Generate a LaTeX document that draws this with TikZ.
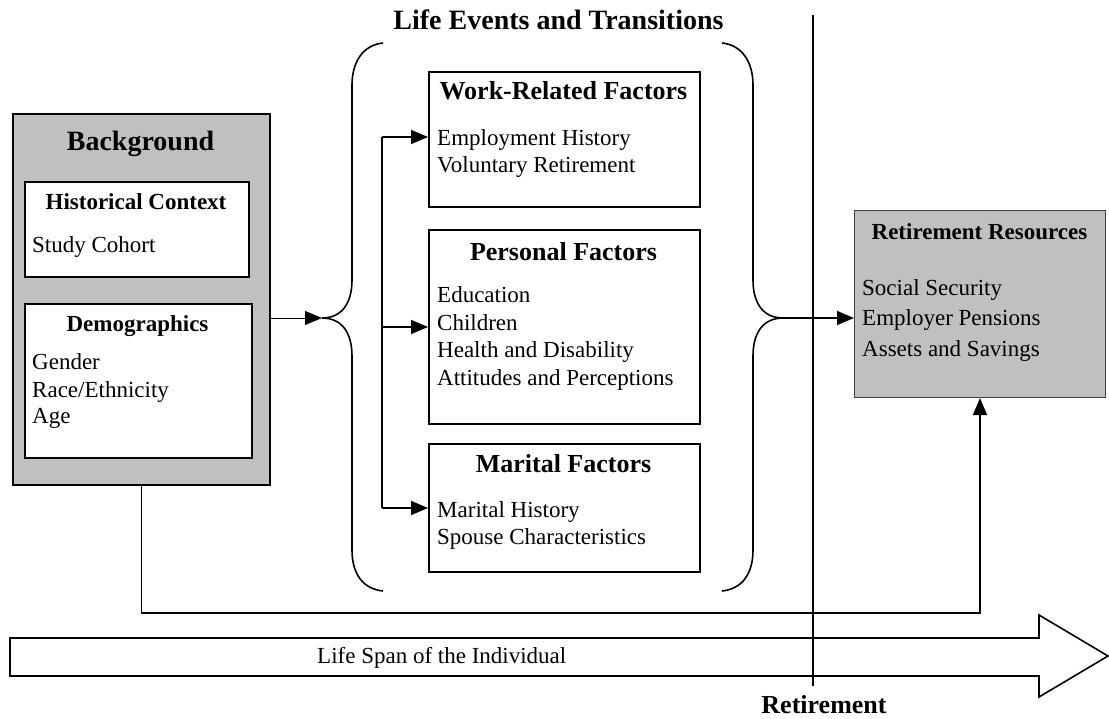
\documentclass[tikz,border=0pt]{standalone}
\usepackage{fontspec}
\setmainfont{Liberation Serif}
\usetikzlibrary{arrows.meta}
\definecolor{boxgray}{HTML}{C0C0C0}
\tikzset{
  box/.style={draw, line width=1.6pt, fill=white, inner sep=0pt, anchor=north west},
  graybox/.style={box, fill=boxgray},
  body/.style={font=\fontsize{23}{27}\selectfont, inner sep=0pt, anchor=base west},
  subhead/.style={font=\fontsize{23}{27}\selectfont\bfseries, inner sep=0pt, anchor=base},
  head/.style={font=\fontsize{26}{30}\selectfont\bfseries, inner sep=0pt, anchor=base},
  bighead/.style={font=\fontsize{28}{32}\selectfont\bfseries, inner sep=0pt, anchor=base},
  conn/.style={line width=1.6pt, -{Triangle[length=17pt,width=14pt]}},
  thinconn/.style={line width=0.8pt, -{Triangle[length=17pt,width=14pt]}},
  bracestyle/.style={line width=1.6pt},
}
\begin{document}
\begin{tikzpicture}[x=1pt,y=-1pt]
\useasboundingbox (0,0) rectangle (1109,719);

% big life span arrow
\draw[line width=1.6pt, fill=white] (10,638) -- (1039,638) -- (1039,615) -- (1108,656) -- (1039,697) -- (1039,676) -- (10,676) -- cycle;
\node[body] (span) at (317,663) {Life Span of the Individual};

% Background
\node[graybox, line width=2.2pt, minimum width=257pt, minimum height=371pt] (bg) at (12,113) {};
\node[bighead] (bgt) at (140.5,151) {Background};
\node[box, minimum width=224pt, minimum height=95pt] (hist) at (24,181) {};
\node[subhead] (histt) at (136,210) {Historical Context};
\node[body] (h1) at (32,253) {Study Cohort};
\node[box, minimum width=227pt, minimum height=154pt] (demo) at (24,303) {};
\node[subhead] (demot) at (137.5,332) {Demographics};
\node[body] (d1) at (32,370) {Gender};
\node[body] (d2) at (32,397) {Race/Ethnicity};
\node[body] (d3) at (32,423) {Age};

% Life events title
\node[bighead] (let) at (558.5,30) {Life Events and Transitions};

% factor boxes
\node[box, minimum width=271pt, minimum height=135pt] (work) at (428,71) {};
\node[head] (workt) at (563.5,100) {Work-Related Factors};
\node[body] (w1) at (437,146) {Employment History};
\node[body] (w2) at (437,173) {Voluntary Retirement};

\node[box, minimum width=271pt, minimum height=194pt] (pers) at (428,229) {};
\node[head] (perst) at (563.5,261) {Personal Factors};
\node[body] (p1) at (437,303) {Education};
\node[body] (p2) at (437,331) {Children};
\node[body] (p3) at (437,358) {Health and Disability};
\node[body] (p4) at (437,385) {Attitudes and Perceptions};

\node[box, minimum width=271pt, minimum height=128pt] (mar) at (428,443) {};
\node[head] (mart) at (563.5,472) {Marital Factors};
\node[body] (m1) at (437,517) {Marital History};
\node[body] (m2) at (437,544) {Spouse Characteristics};

% Retirement resources
\node[graybox, line width=1pt, draw=black!75, minimum width=251pt, minimum height=187pt] (res) at (854,210) {};
\node[subhead] (rest) at (979.5,240) {Retirement Resources};
\node[body] (r1) at (862,296) {Social Security};
\node[body] (r2) at (862,326) {Employer Pensions};
\node[body] (r3) at (862,357) {Assets and Savings};

% braces
\coordinate (ltip) at (322,318);
\coordinate (rtip) at (783,318);
\draw[bracestyle] (383,43) .. controls (363,45) and (352,62) .. (352,85)
  -- (352,280) .. controls (352,303) and (342,318) .. (ltip)
  .. controls (342,318) and (352,333) .. (352,356)
  -- (352,550) .. controls (352,574) and (363,589) .. (383,591);
\draw[bracestyle] (722,43) .. controls (742,45) and (753,62) .. (753,85)
  -- (753,280) .. controls (753,303) and (763,318) .. (rtip)
  .. controls (763,318) and (753,333) .. (753,356)
  -- (753,550) .. controls (753,574) and (742,589) .. (722,591);

% connectors
\draw[thinconn] (bg.east |- ltip) -- (ltip);
\coordinate (vtop) at (382,137);
\coordinate (vmid) at (382,327);
\coordinate (vbot) at (382,508);
\draw[line width=1.6pt] (vtop) -- (vbot);
\draw[conn] (vtop) -- (work.west |- vtop);
\draw[conn] (vmid) -- (pers.west |- vmid);
\draw[conn] (vbot) -- (mar.west |- vbot);
\draw[conn] (rtip) -- (res.west |- rtip);
\draw[conn] (bg.south) -- ++(0,127) -| (res.south);

% retirement line
\coordinate (rl1) at (813,15);
\coordinate (rl2) at (813,686);
\draw[line width=1.8pt] (rl1) -- (rl2);
\node[head] (retl) at (824,713) {Retirement};
\end{tikzpicture}
\end{document}
